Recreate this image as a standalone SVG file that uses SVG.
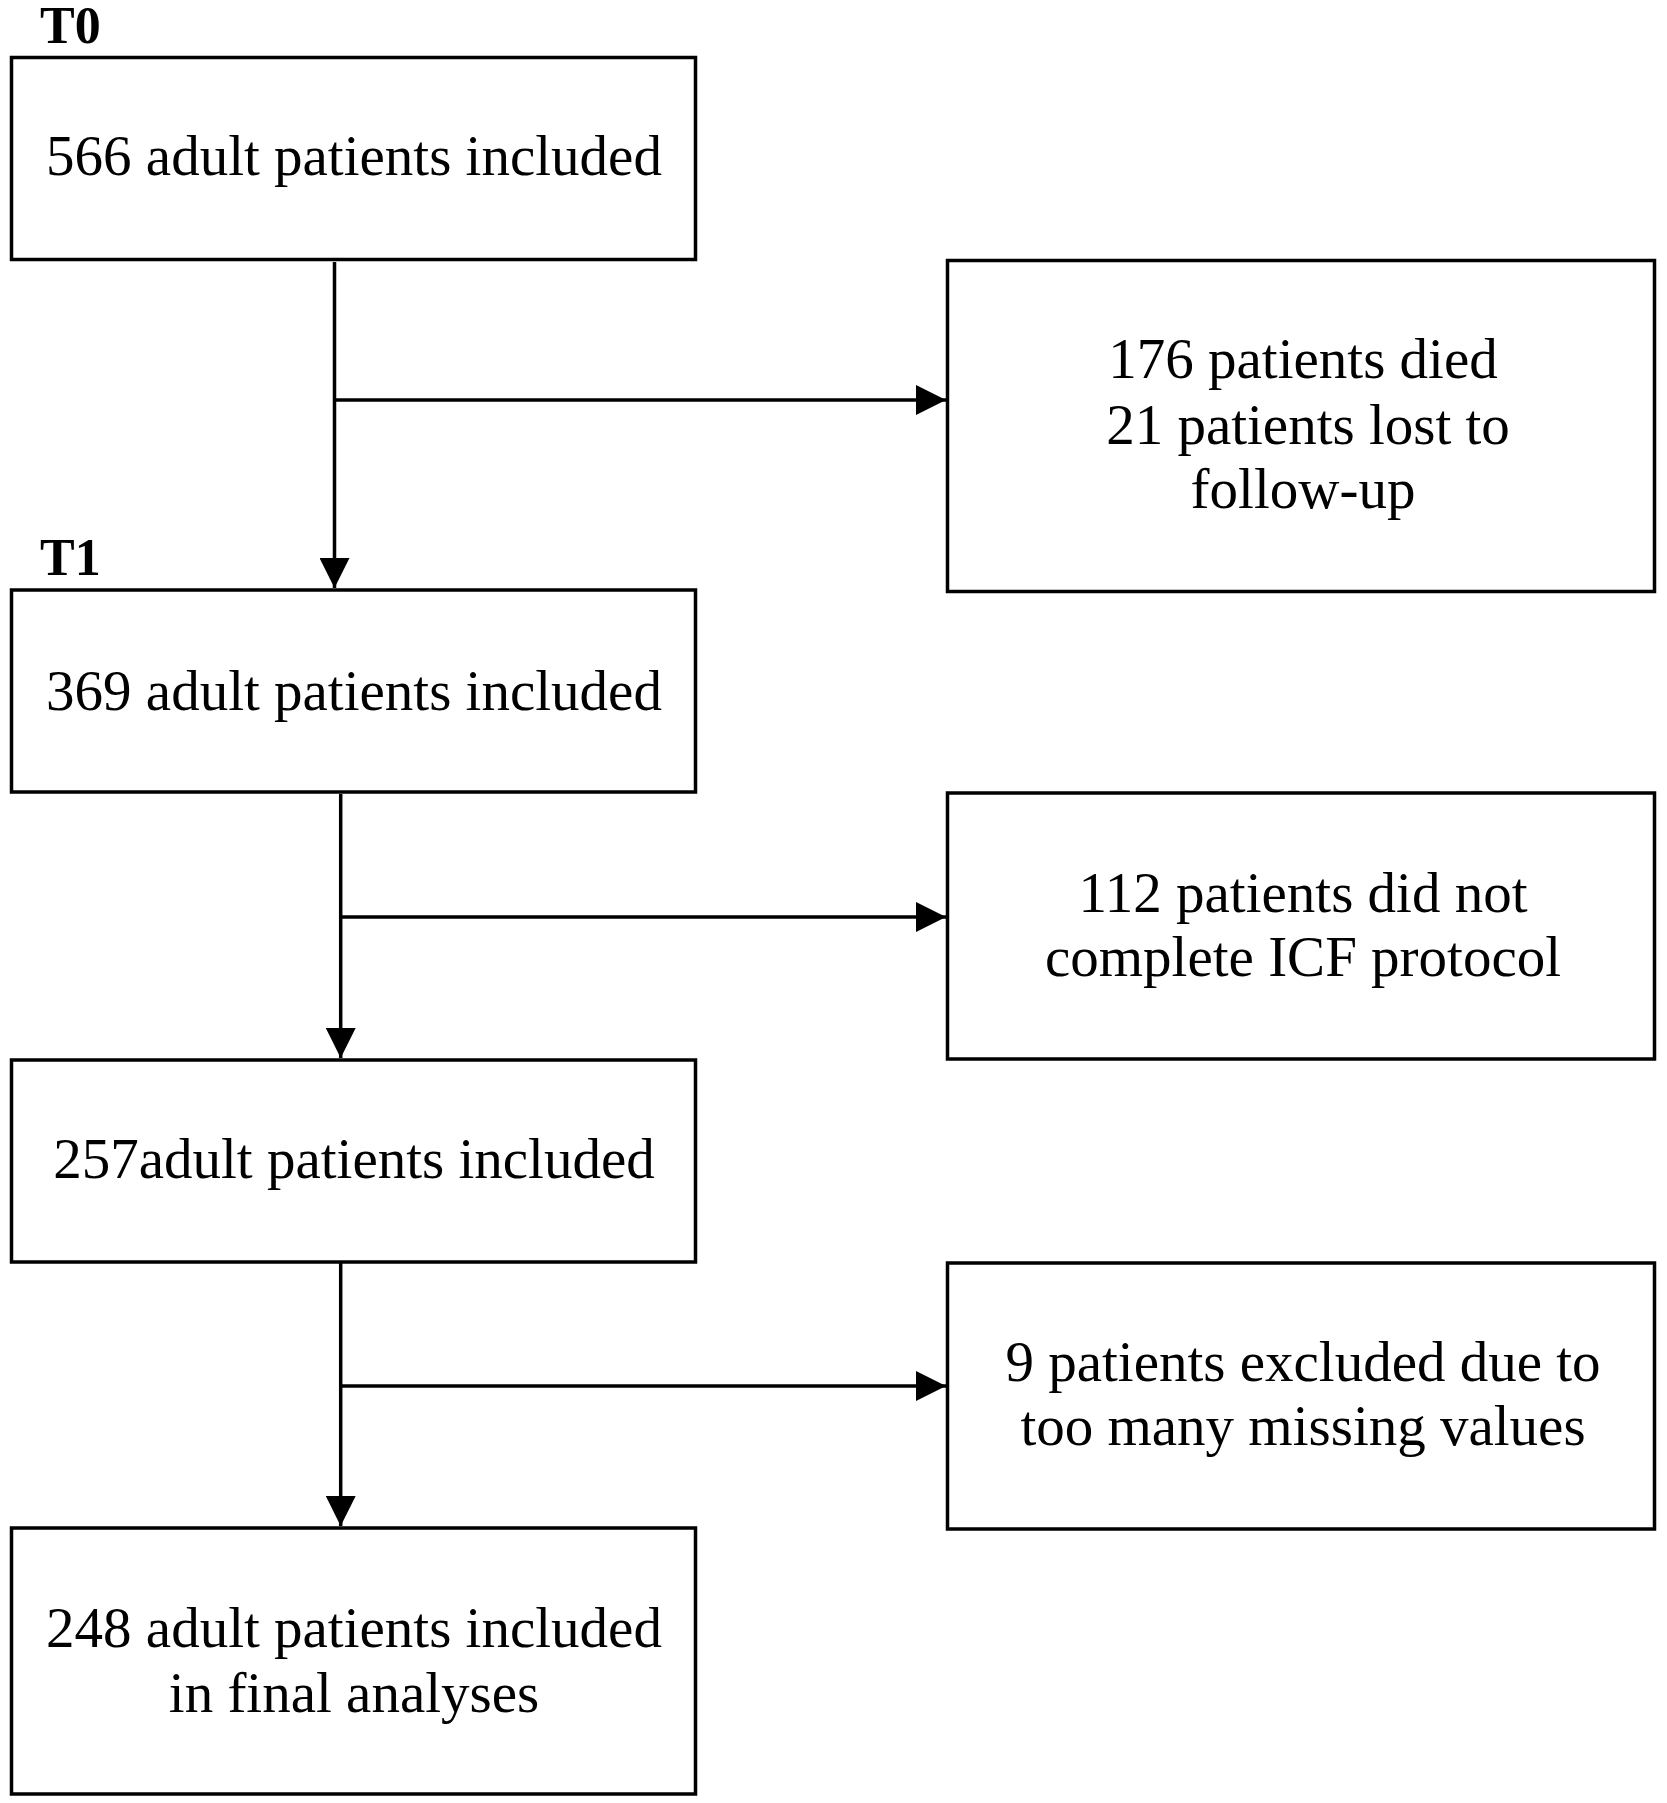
<svg xmlns="http://www.w3.org/2000/svg" width="1667" height="1803" viewBox="0 0 1667 1803">
<style>
.box{fill:#fff;stroke:#000;stroke-width:3.5}
.t{font-family:"Liberation Serif","Times New Roman",serif;font-size:57px;fill:#000;text-anchor:middle}
.lbl{font-family:"Liberation Serif","Times New Roman",serif;font-size:52px;font-weight:bold;fill:#000}
.ln{stroke:#000;stroke-width:3.5;fill:none}
</style>
<defs>
<marker id="ah" markerUnits="userSpaceOnUse" markerWidth="30" markerHeight="30" viewBox="0 0 28 28" refX="28" refY="14" orient="auto">
<path d="M0,0 L28,14 L0,28 Z" fill="#000"/>
</marker>
</defs>
<rect width="1667" height="1803" fill="#fff"/>
<text class="lbl" x="40" y="43">T0</text>
<text class="lbl" x="40" y="575">T1</text>
<g id="n1"><rect class="box" x="11.5" y="57.5" width="684" height="202"/><text class="t" x="354" y="175">566 adult patients included</text></g>
<g id="n2"><rect class="box" x="947.5" y="260.5" width="707" height="331"/><text class="t" x="1303" y="378">176 patients died</text><text class="t" x="1308" y="444">21 patients lost to</text><text class="t" x="1303" y="508">follow-up</text></g>
<g id="n3"><rect class="box" x="11.5" y="590" width="684" height="202"/><text class="t" x="354" y="710">369 adult patients included</text></g>
<g id="n4"><rect class="box" x="947.5" y="793" width="707" height="266"/><text class="t" x="1303" y="912">112 patients did not</text><text class="t" x="1303" y="976">complete ICF protocol</text></g>
<g id="n5"><rect class="box" x="11.5" y="1060" width="684" height="202"/><text class="t" x="354" y="1178">257adult patients included</text></g>
<g id="n6"><rect class="box" x="947.5" y="1263" width="707" height="266"/><text class="t" x="1303" y="1381">9 patients excluded due to</text><text class="t" x="1303" y="1445">too many missing values</text></g>
<g id="n7"><rect class="box" x="11.5" y="1528" width="684" height="266"/><text class="t" x="354" y="1647">248 adult patients included</text><text class="t" x="354" y="1712">in final analyses</text></g>
<g id="connectors">
<line class="ln" x1="334.5" y1="262" x2="334.5" y2="588" marker-end="url(#ah)"/>
<line class="ln" x1="334.5" y1="400" x2="946" y2="400" marker-end="url(#ah)"/>
<line class="ln" x1="340.7" y1="794" x2="340.7" y2="1058" marker-end="url(#ah)"/>
<line class="ln" x1="340.7" y1="917" x2="946" y2="917" marker-end="url(#ah)"/>
<line class="ln" x1="340.7" y1="1262" x2="340.7" y2="1526" marker-end="url(#ah)"/>
<line class="ln" x1="340.7" y1="1386" x2="946" y2="1386" marker-end="url(#ah)"/>
</g>
</svg>
